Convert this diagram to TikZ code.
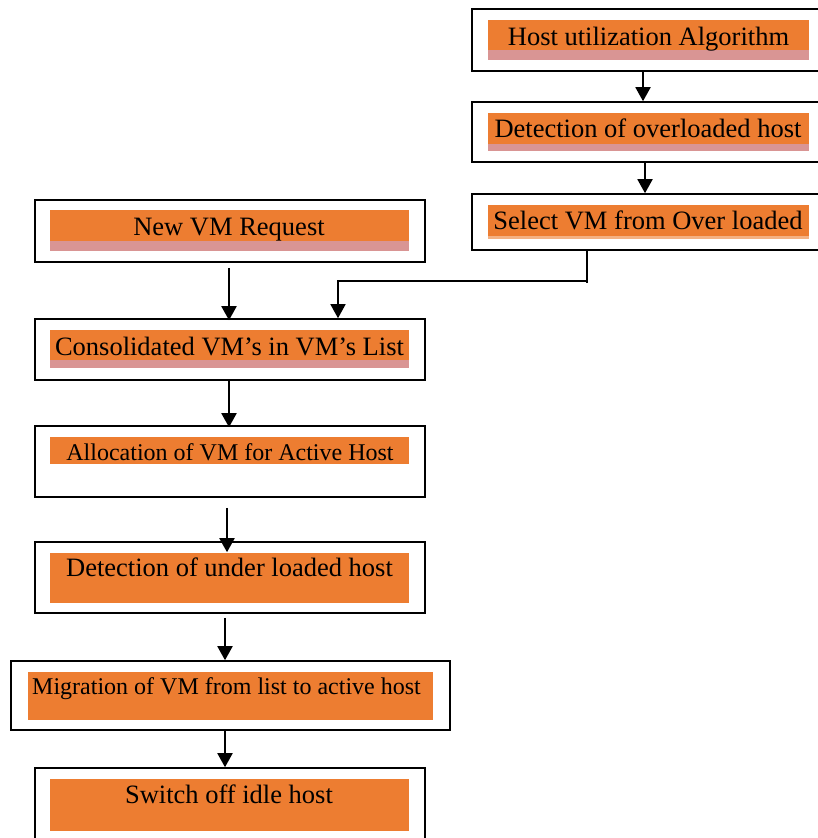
\documentclass[tikz,border=0pt]{standalone}
\usepackage{fontspec}
\setmainfont{Liberation Serif}
\usetikzlibrary{arrows.meta,fit}
\definecolor{boxorange}{HTML}{ED7D31}
\definecolor{boxpink}{HTML}{D99594}
\definecolor{boxlight}{HTML}{F4B183}
\tikzset{
  outerbox/.style={draw=black, line width=1.6pt, inner sep=0pt, fill=white},
  bar/.style={fill=boxorange, inner sep=0pt, draw=none},
  pinkbar/.style={fill=boxpink, inner sep=0pt, draw=none},
  lightbar/.style={fill=boxlight, inner sep=0pt, draw=none},
  bigtxt/.style={inner sep=0pt, anchor=base, font=\fontsize{26.5}{30}\selectfont},
  smalltxt/.style={inner sep=0pt, anchor=base, font=\fontsize{24}{28}\selectfont},
  arr/.style={line width=1.9pt, -{Triangle[width=15pt,length=14pt]}},
  plainline/.style={line width=1.6pt}
}
\newcommand\boxat[5]{\node[outerbox, fit={(#2,#3) (#4,#5)}] (#1) {};}
\newcommand\barat[6]{\node[#2, fit={(#3,#4) (#5,#6)}] (#1) {};}
\begin{document}
\begin{tikzpicture}[x=1pt,y=-1pt]
\useasboundingbox (0,0) rectangle (818,838);
\clip (0,0) rectangle (818,838);
% outer boxes
\boxat{b1}{472}{9}{840}{71}
\boxat{b2}{472}{102}{840}{162}
\boxat{b3}{472}{194}{840}{250}
\boxat{b4}{35}{200}{425}{262}
\boxat{b5}{35}{319}{425}{380}
\boxat{b6}{35}{426}{425}{497}
\boxat{b7}{35}{542}{425}{613}
\boxat{b8}{11}{661}{450}{730}
\boxat{b9}{35}{768}{425}{860}
% coloured bars
\barat{o1}{bar}{488}{20}{809}{50}
\barat{p1}{pinkbar}{488}{50}{809}{60}
\barat{o2}{bar}{488}{113}{809}{144}
\barat{p2}{pinkbar}{488}{144}{809}{151}
\barat{o3}{bar}{488}{205}{809}{236}
\barat{p3}{lightbar}{488}{236}{809}{239}
\barat{o4}{bar}{50}{210}{409}{241}
\barat{p4}{pinkbar}{50}{241}{409}{251}
\barat{o5}{bar}{50}{330}{409}{360}
\barat{p5}{pinkbar}{50}{360}{409}{368}
\barat{o6}{bar}{50}{437}{409}{464}
\barat{o7}{bar}{50}{553}{409}{603}
\barat{o8}{bar}{28}{672}{433}{720}
\barat{o9}{bar}{50}{779}{409}{831}
% texts
\node[bigtxt] (t1) at (648.5,45) {Host utilization Algorithm};
\node[bigtxt] (t2) at (648,137.5) {Detection of overloaded host};
\node[bigtxt] (t3) at (648,229) {Select VM from Over loaded};
\node[bigtxt] (t4) at (229,235) {New VM Request};
\node[bigtxt] (t5) at (229.5,355) {Consolidated VM’s in VM’s List};
\node[smalltxt] (t6) at (230,460) {Allocation of VM for Active Host};
\node[bigtxt] (t7) at (229.5,576.5) {Detection of under loaded host};
\node[smalltxt, anchor=base west] (t8) at (32,694) {Migration of VM from list to active host};
\node[bigtxt] (t9) at (229,803) {Switch off idle host};
% connector x positions
\coordinate (x1) at (643,0);
\coordinate (x2) at (645,0);
\coordinate (x3) at (229,0);
\coordinate (x5) at (227,0);
\coordinate (x6) at (225,0);
\coordinate (e1) at (587,281);
\coordinate (e2) at (338,281);
% connectors
\draw[arr] (b1.south -| x1) -- (b2.north -| x1);
\draw[arr] (b2.south -| x2) -- (b3.north -| x2);
\draw[arr, shorten <=5pt, shorten >=-2pt] (b4.south -| x3) -- (b5.north -| x3);
\draw[arr, shorten >=-2pt] (b5.south -| x3) -- (b6.north -| x3);
\draw[arr, shorten <=10pt, shorten >=-11pt] (b6.south -| x5) -- (b7.north -| x5);
\draw[arr, shorten <=4pt] (b7.south -| x6) -- (b8.north -| x6);
\draw[arr] (b8.south -| x6) -- (b9.north -| x6);
\draw[plainline] (b3.south -| e1) -- ([yshift=-2pt]e1);
\draw[arr, line width=1.6pt] (e1) -- (e2) -- (b5.north -| e2);
\end{tikzpicture}
\end{document}
